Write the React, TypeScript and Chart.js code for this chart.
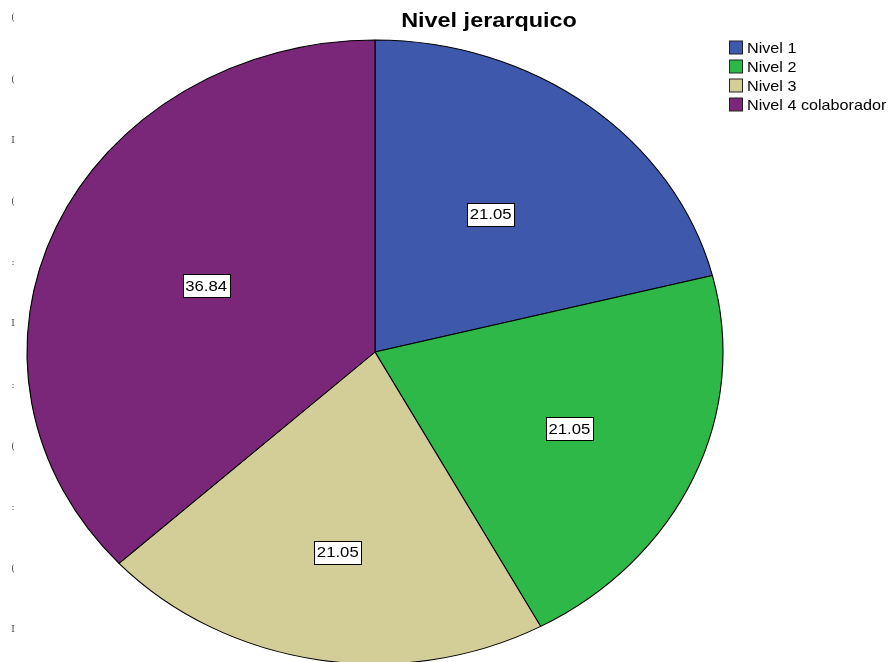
import React, { useEffect, useRef } from "react";
import { Chart, registerables } from "chart.js";

Chart.register(...registerables);

const categories = ["Nivel 1", "Nivel 2", "Nivel 3", "Nivel 4 colaborador"];
const percentages = [21.05, 21.05, 21.05, 36.84];
const colors = ["#3e58ac", "#2eb848", "#d3ce97", "#7b2779"];
const titleText = "Nivel jerarquico";
const edgeGlyphs = ["(", "(", "I", "(", ":", "I", ":", "(", ":", "(", "I"];

// layout constants
const W = 891;
const H = 662;
const RY = 312;
const SX = 348 / 312;
const labelRadius = [0.56, 0.61, 0.65, 0.53];

const ellipsePlugin = {
  id: "ellipse",
  beforeDatasetsDraw(chart: any) {
    const arc = chart.getDatasetMeta(0).data[0];
    const ctx = chart.ctx;
    ctx.save();
    ctx.translate(arc.x, arc.y);
    ctx.scale(SX, 1);
    ctx.translate(-arc.x, -arc.y);
  },
  afterDatasetsDraw(chart: any) {
    chart.ctx.restore();
  },
};

function stretchedText(ctx: CanvasRenderingContext2D, txt: string, x: number, y: number) {
  ctx.save();
  ctx.translate(x, y);
  ctx.scale(SX, 1);
  ctx.fillText(txt, 0, 0);
  ctx.restore();
}

const decorPlugin = {
  id: "decor",
  afterDraw(chart: any) {
    const ctx = chart.ctx;
    const meta = chart.getDatasetMeta(0);
    ctx.save();
    // slice labels
    ctx.font = "15px 'Liberation Sans', Arial, sans-serif";
    ctx.textAlign = "center";
    ctx.textBaseline = "middle";
    meta.data.forEach((arc: any, i: number) => {
      const mid = (arc.startAngle + arc.endAngle) / 2;
      const r = arc.outerRadius * labelRadius[i];
      const x = arc.x + r * Math.cos(mid) * SX - (i === 0 ? 4 : 0);
      const y = arc.y + r * Math.sin(mid);
      const txt = percentages[i].toFixed(2);
      const tw = ctx.measureText(txt).width * SX;
      const bw = Math.round(tw + 5);
      const bh = 23;
      const bx = Math.round(x - bw / 2) + 0.5;
      const by = Math.round(y - bh / 2) + 0.5;
      ctx.fillStyle = "#ffffff";
      ctx.fillRect(bx, by, bw, bh);
      ctx.strokeStyle = "#000000";
      ctx.lineWidth = 1;
      ctx.strokeRect(bx, by, bw, bh);
      ctx.fillStyle = "#000000";
      stretchedText(ctx, txt, x, y + 1);
    });
    // title
    ctx.font = "bold 21px 'Liberation Sans', Arial, sans-serif";
    ctx.fillStyle = "#000000";
    ctx.textAlign = "center";
    stretchedText(ctx, titleText, 489, 21);
    // legend
    ctx.font = "14.5px 'Liberation Sans', Arial, sans-serif";
    ctx.textAlign = "left";
    categories.forEach((c, i) => {
      const cy = 47.5 + i * 19;
      ctx.fillStyle = colors[i];
      ctx.fillRect(729.5, cy - 6.5, 13, 13);
      ctx.strokeStyle = "#222222";
      ctx.lineWidth = 1;
      ctx.strokeRect(729.5, cy - 6.5, 13, 13);
      ctx.fillStyle = "#000000";
      stretchedText(ctx, c, 747, cy + 1);
    });
    // clipped glyphs at left edge
    ctx.font = "9px 'DejaVu Serif', serif";
    ctx.fillStyle = "#444444";
    ctx.textAlign = "center";
    edgeGlyphs.forEach((g, i) => {
      ctx.fillText(g, 13, 18 + i * 61.2);
    });
    ctx.restore();
  },
};

export default function App() {
  const ref = useRef<HTMLCanvasElement>(null);
  useEffect(() => {
    document.body.style.margin = "0";
    const canvas = ref.current!;
    const chart = new Chart(canvas, {
      type: "pie",
      data: {
        labels: categories,
        datasets: [
          {
            data: percentages,
            backgroundColor: colors,
            borderColor: "#000000",
            borderWidth: 1,
          },
        ],
      },
      options: {
        responsive: false,
        animation: false,
        radius: RY,
        layout: { padding: { left: 63, right: 204, top: 42, bottom: 0 } },
        plugins: {
          legend: { display: false },
          title: { display: false },
          tooltip: { enabled: false },
        },
        events: [],
      } as any,
      plugins: [ellipsePlugin, decorPlugin],
    });
    return () => chart.destroy();
  }, []);
  return (
    <div style={{ width: W, height: H, background: "#ffffff" }}>
      <canvas ref={ref} width={W} height={H} style={{ display: "block" }} />
    </div>
  );
}
